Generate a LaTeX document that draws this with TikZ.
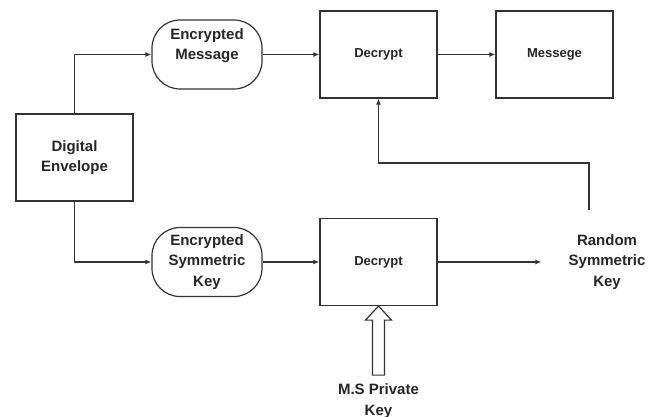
\documentclass[tikz,border=0pt]{standalone}
\usepackage{fontspec}
\setmainfont{Liberation Sans}
\usetikzlibrary{arrows.meta,calc}
\begin{document}
\begin{tikzpicture}[x=1pt,y=-1pt,
  ink/.style={draw=black!80,line width=1.2pt},
  lbl/.style={font=\bfseries\fontsize{15}{20.5}\selectfont,text=black!85,align=center,inner sep=0pt},
  small/.style={font=\bfseries\fontsize{13}{16}\selectfont,text=black!85,align=center,inner sep=0pt},
  box/.style={ink,rectangle,minimum width=117pt,minimum height=87pt},
  pill/.style={ink,rectangle,rounded corners=28pt,minimum width=110pt,minimum height=69pt},
  flow/.style={draw=black!80,line width=1.2pt,-{Latex[length=6pt,width=5pt]}},
  blockarrow/.style={draw=black!80,line width=1.2pt,fill=white,line join=miter}
]
\useasboundingbox (0,0) rectangle (658,417);

% blocks
\node[box,lbl] (env) at (74.5,157.5) {Digital\\Envelope};
\node[pill,lbl] (emsg) at (207,54.5) {Encrypted\\Message\\\mbox{}};
\node[pill,lbl] (ekey) at (207,262) {Encrypted\\Symmetric\\Key};
\node[box,small] (dec1) at (378.5,54.5) {Decrypt};
\node[box,small] (msg) at (554.5,54.5) {Messege};
\node[box,small] (dec2) at (378.5,262) {Decrypt};
\node[lbl] (rsk) at (607,262) {Random\\Symmetric\\Key};
\node[lbl] (priv) at (378.5,401) {M.S Private\\Key};
\coordinate (fb) at (589,210);

% connectors
\draw[flow] (env.north) |- (emsg.west);
\draw[flow] (env.south) |- (ekey.west);
\draw[flow] (emsg.east) -- (dec1.west);
\draw[flow] (ekey.east) -- (dec2.west);
\draw[flow] (dec1.east) -- (msg.west);
\draw[flow] (dec2.east) -- ([xshift=-27pt]rsk.west |- dec2.east);
\draw[flow] (fb) -- (fb |- 0,163) -| (dec1.south);

% hollow arrow from the private key up into the lower decrypt
\draw[blockarrow] (dec2.south) -- ++(13,14) -- ++(-7,0) -- ++(0,55)
  -- ++(-12,0) -- ++(0,-55) -- ++(-7,0) -- cycle;
\end{tikzpicture}
\end{document}
